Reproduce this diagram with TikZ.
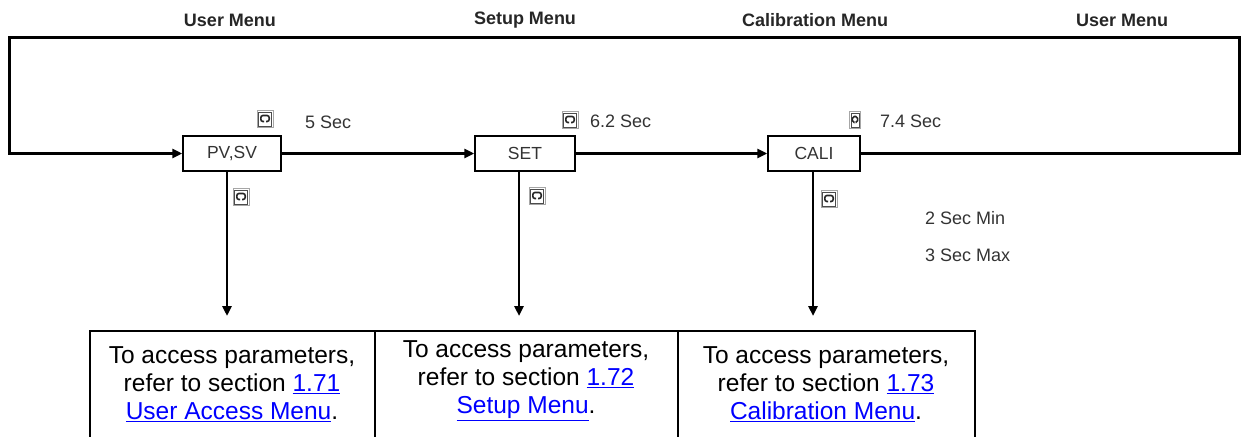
\documentclass[tikz,border=0pt]{standalone}
\usepackage{fontspec}
\setmainfont{Liberation Sans}
\usetikzlibrary{arrows.meta}
\newcommand\mylink[1]{\textcolor{blue}{\underline{#1}}}
\begin{document}
\begin{tikzpicture}[x=1pt,y=-1pt,
  menubox/.style={draw, line width=1.5pt, minimum width=98pt, minimum height=35pt, inner sep=0pt,
    font=\fontsize{17.5}{20}\selectfont, text=black!80},
  toplabel/.style={font=\bfseries\fontsize{18}{21}\selectfont, text=black!85},
  timelabel/.style={font=\fontsize{18}{21}\selectfont, text=black!80, anchor=west, inner sep=0pt},
  flow/.style={line width=3pt, line join=miter},
  arr/.style={-{Triangle[length=10pt,width=9pt]}},
  cell/.style={align=center, font=\fontsize{24.5}{28}\selectfont, inner sep=0pt},
  grid/.style={line width=2pt},
  btn/.pic={
    \draw[black!35, line width=1pt, fill=white] (-8,-8.5) rectangle (8,8.5);
    \draw[black!70, line width=1pt] (-6.5,-7) rectangle (6.5,7);
    \draw[black!85, line width=1.6pt, rounded corners=2.2pt] (-1,2.5) -- (-4.2,2.5) -- (-4.2,-3.5)
      -- (4.2,-3.5) -- (4.2,2.5) -- (1,2.5);
  },
  btnnarrow/.pic={
    \draw[black!35, line width=1pt, fill=white] (-5.5,-8.5) rectangle (5.5,8.5);
    \draw[black!70, line width=1pt] (-4,-7) rectangle (4,7);
    \draw[black!85, line width=1.6pt, rounded corners=1.8pt] (-0.5,2.5) -- (-2.6,2.5) -- (-2.6,-3.5)
      -- (2.6,-3.5) -- (2.6,2.5) -- (0.5,2.5);
  }
]
\useasboundingbox (0,0) rectangle (1241,436);

% top labels
\node[toplabel] (l1) at (230,20) {User Menu};
\node[toplabel] (l2) at (525,20) {Setup Menu};
\node[toplabel] (l3) at (815,20) {Calibration Menu};
\node[toplabel] (l4) at (1122,20) {User Menu};

% menu boxes
\node[menubox] (pv) at (232,153.5) {PV,SV};
\node[menubox, minimum width=100pt] (set) at (525,153.5) {SET};
\node[menubox, minimum width=92pt] (cali) at (814,153.5) {CALI};

% loop corners
\coordinate (tl) at (9,37.5);
\coordinate (tr) at (1239,37.5);
\coordinate (bl) at (9,153.5);
\coordinate (br) at (1239,153.5);

\draw[flow, arr] (cali.east) -- (br) -- (tr) -- (tl) -- (bl) -- (pv.west);
\draw[flow, arr] (pv.east) -- (set.west);
\draw[flow, arr] (set.east) -- (cali.west);

% down arrows
\coordinate (d1) at (227,316);
\coordinate (d2) at (519,316);
\coordinate (d3) at (813,316);
\draw[line width=2.5pt, arr] (d1 |- pv.south) -- (d1);
\draw[line width=2.5pt, arr] (d2 |- set.south) -- (d2);
\draw[line width=2.5pt, arr] (d3 |- cali.south) -- (d3);

% button icons
\pic at (265,119) {btn};
\pic at (570,120) {btn};
\pic at (855,120) {btnnarrow};
\pic at (241,197) {btn};
\pic at (537,196) {btn};
\pic at (829,199) {btn};

% time labels
\node[timelabel] (t1) at (305,122) {5 Sec};
\node[timelabel] (t2) at (590,121) {6.2 Sec};
\node[timelabel] (t3) at (880,121) {7.4 Sec};
\node[timelabel] (t4) at (925,218) {2 Sec Min};
\node[timelabel] (t5) at (925,255) {3 Sec Max};

% table
\coordinate (g0) at (90,331);
\coordinate (g1) at (375,331);
\coordinate (g2) at (678,331);
\coordinate (g3) at (975,331);
\coordinate (h0) at (90,440);
\coordinate (h1) at (375,440);
\coordinate (h2) at (678,440);
\coordinate (h3) at (975,440);
\draw[grid, line cap=rect] (g0) -- (g3);
\draw[grid] (g0) -- (h0);
\draw[grid] (g1) -- (h1);
\draw[grid] (g2) -- (h2);
\draw[grid] (g3) -- (h3);

\node[cell] (c1) at (232,384) {To access parameters,\\refer to section \mylink{1.71}\\\mylink{User Access Menu}.};
\node[cell] (c2) at (526,381) {To access parameters,\\refer to section \mylink{1.72}\\\mylink{Setup Menu}.};
\node[cell] (c3) at (826,384) {To access parameters,\\refer to section \mylink{1.73}\\\mylink{Calibration Menu}.};
\end{tikzpicture}
\end{document}
